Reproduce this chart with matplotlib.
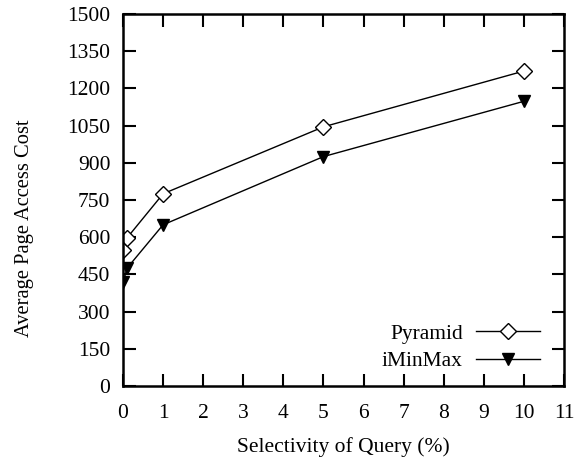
import matplotlib
matplotlib.use("Agg")
import matplotlib.pyplot as plt

# Query selectivity (%) and average page access cost per index structure
selectivity = [0.01, 0.1, 1, 5, 10]
pyramid_cost = [548, 597, 775, 1045, 1270]
iminmax_cost = [420, 475, 650, 925, 1148]

x_ticks = list(range(0, 12))
y_ticks = list(range(0, 1501, 150))

plt.rcParams['font.family'] = ['Liberation Serif', 'DejaVu Serif']
plt.rcParams['font.size'] = 15.5

fig = plt.figure(figsize=(5.84, 4.65), dpi=100)
ax = fig.add_axes([0.2106, 0.1699, 0.7552, 0.80])

ax.plot(selectivity, pyramid_cost, color='black', lw=1.0, marker='D',
        markersize=8.5, markerfacecolor='white', markeredgecolor='black',
        markeredgewidth=1.0, label='Pyramid')
ax.plot(selectivity, iminmax_cost, color='black', lw=1.0, marker='v',
        markersize=9, markerfacecolor='black', markeredgecolor='black',
        label='iMinMax')

ax.set_xlim(0, 11)
ax.set_ylim(0, 1500)
ax.set_xticks(x_ticks)
ax.set_yticks(y_ticks)
ax.tick_params(direction='in', length=9, width=1.5, top=True, right=True,
               labelsize=15.5)
ax.tick_params(axis='x', pad=13)
ax.tick_params(axis='y', pad=9)
for sp in ax.spines.values():
    sp.set_linewidth(1.8)

ax.set_xlabel('Selectivity of Query (%)', fontsize=15.5, labelpad=10)
ax.set_ylabel('Average Page Access Cost', fontsize=14.8)
ax.yaxis.set_label_coords(-0.202, 0.425)

ax.legend(loc='lower right', frameon=False, markerfirst=False,
          handlelength=3.0, handletextpad=0.6, labelspacing=0.35,
          fontsize=15.5, bbox_to_anchor=(0.99, -0.013))

fig.savefig('out.png', dpi=100)
